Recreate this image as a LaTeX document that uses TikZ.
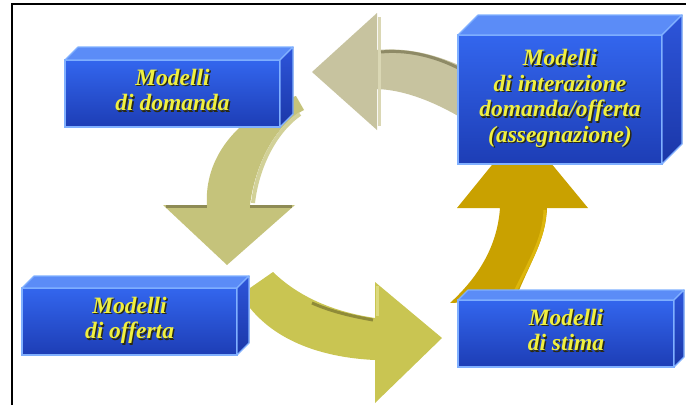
\documentclass[tikz,border=0pt]{standalone}
\usepackage{fontspec}
\setmainfont{Liberation Serif}

% colours of the cycle arrows
\definecolor{arrA}{HTML}{C7C39F}
\definecolor{arrAdark}{HTML}{8E8A66}
\definecolor{arrAlight}{HTML}{DAD7B4}
\definecolor{arrB}{HTML}{C5C37B}
\definecolor{arrBdark}{HTML}{8E8B55}
\definecolor{arrBlight}{HTML}{D2D198}
\definecolor{arrC}{HTML}{C9C552}
\definecolor{arrCdark}{HTML}{8F8B38}
\definecolor{arrClight}{HTML}{DCD97C}
\definecolor{arrD}{HTML}{C9A100}
\definecolor{arrDlight}{HTML}{DDB60C}
% colours of the blue blocks
\definecolor{frontTop}{HTML}{3366EE}
\definecolor{frontBot}{HTML}{1D3DB5}
\definecolor{topFace}{HTML}{5B8CF7}
\definecolor{sideTop}{HTML}{2D55DA}
\definecolor{sideBot}{HTML}{1B37A8}
\definecolor{edgeBlue}{HTML}{80B0FF}
\definecolor{txtYellow}{HTML}{F0F040}
\definecolor{txtShadow}{HTML}{2A2A12}

% multi-line label with a dark drop shadow
\newcommand\shtext[1]{%
  \setbox0=\hbox{\begin{tabular}{@{}c@{}}#1\end{tabular}}%
  \rlap{\kern1.4pt\raise-1.4pt\hbox{\color{txtShadow}\copy0}}%
  {\color{txtYellow}\box0}}

% 3D block: name, centre, width, height, depth
\newcommand\cuboid[5]{%
  \node[frontface, minimum width=#3, minimum height=#4] (#1) at #2 {};
  \filldraw[topface] (#1.north west) -- ([shift={(#5,-#5)}]#1.north west)
    -- ([shift={(#5,-#5)}]#1.north east) -- (#1.north east) -- cycle;
  \filldraw[sideface] (#1.north east) -- ([shift={(#5,-#5)}]#1.north east)
    -- ([shift={(#5,-#5)}]#1.south east) -- (#1.south east) -- cycle;
}

\begin{document}
\begin{tikzpicture}[x=1pt,y=-1pt,
  frontface/.style={draw=edgeBlue, line width=1.2pt, top color=frontTop,
    bottom color=frontBot, inner sep=0pt, outer sep=0pt},
  topface/.style={draw=edgeBlue, line width=1.2pt, fill=topFace, line join=round},
  sideface/.style={draw=edgeBlue, line width=1.2pt, top color=sideTop,
    bottom color=sideBot, line join=round},
  lbl/.style={inner sep=0pt, font=\fontsize{23.5}{25.5}\selectfont\bfseries\itshape}]

\useasboundingbox (0,0) rectangle (686,405);

% frame
\draw[line width=2.2pt] (12,405) -- (12,4) -- (686,4);

% arrow towards "di domanda" (pointing left)
\fill[arrA] (312,72) -- (377,13) -- (377,50)
  .. controls (410,47) and (440,56) .. (465,68) -- (465,120)
  .. controls (435,102) and (405,90) .. (377,89) -- (377,130) -- cycle;
\draw[arrAlight, line width=3pt] (379,17) -- (379,126);
\draw[arrAdark, line width=3pt] (381,52) .. controls (410,49) and (440,58) .. (462,70);

% arrow towards "di offerta" (pointing down)
\fill[arrB] (227,265) -- (163,205) -- (207,205)
  .. controls (204,160) and (235,115) .. (296,96) -- (304,110)
  .. controls (275,125) and (255,165) .. (250,205) -- (295,205) -- cycle;
\draw[arrBdark, line width=3pt] (166,206.5) -- (207,206.5) (250,206.5) -- (292,206.5);
\draw[arrBlight, line width=4pt] (253,203) .. controls (257,168) and (274,132) .. (300,114);

% arrow towards "di stima" (pointing right)
\fill[arrC] (442,338) -- (375,282) -- (375,318)
  .. controls (335,312) and (300,298) .. (273,272) -- (250,288) -- (250,308)
  .. controls (280,345) and (330,358) .. (375,360) -- (375,403) -- cycle;
\draw[arrCdark, line width=3pt] (373,320) .. controls (350,316) and (330,311) .. (312,303);
\draw[arrClight, line width=3pt] (377,286) -- (377,316);

% arrow towards "assegnazione" (pointing up)
\fill[arrD] (522,128) -- (588,208) -- (547,208)
  .. controls (546,240) and (530,262) .. (515,300) -- (450,303)
  .. controls (475,280) and (497,250) .. (500,208) -- (457,208) -- cycle;
\draw[arrDlight, line width=3pt] (545,210) .. controls (544,240) and (529,262) .. (514,294);

% blocks
\cuboid{dom}{(172.5,93.5)}{215pt}{67pt}{13}
\cuboid{ass}{(560,99.5)}{204pt}{129pt}{20}
\cuboid{off}{(129.5,321.5)}{215pt}{67pt}{12}
\cuboid{sti}{(566,333.5)}{216pt}{67pt}{10}

\node[lbl] at (dom) {\shtext{Modelli\\di domanda}};
\node[lbl] at (ass) {\shtext{Modelli\\di interazione\\domanda/offerta\\(assegnazione)}};
\node[lbl] at (off) {\shtext{Modelli\\di offerta}};
\node[lbl] at (sti) {\shtext{Modelli\\di stima}};

\end{tikzpicture}
\end{document}
